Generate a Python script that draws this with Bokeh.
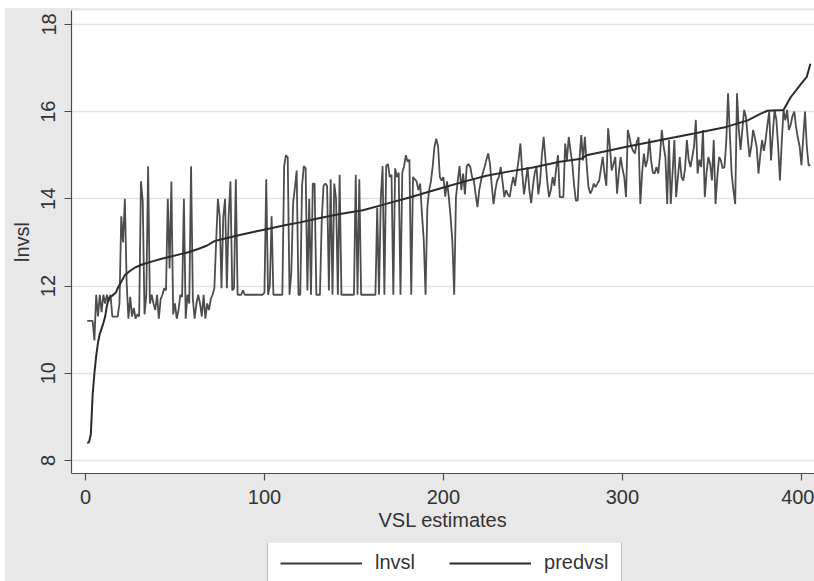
from bokeh.plotting import figure
from bokeh.layouts import column
from bokeh.models import Range1d, FixedTicker, Legend, LegendItem
from bokeh.embed import file_html
from bokeh.resources import INLINE

# Observed log VSL per estimate (observation number, lnvsl)
lnvsl_points = [
    (1, 11.2), (4, 11.2), (5, 10.75), (6, 11.8), (7, 11.3), (8, 11.8), (9, 11.4), (10, 11.8),
    (11, 11.6), (12, 11.8), (13, 11.65), (14, 11.8), (15, 11.3), (18, 11.3), (19, 11.6),
    (20, 13.6), (21, 13.0), (22, 14.0), (23, 12.1), (24, 11.25), (25, 11.75), (26, 11.3),
    (27, 11.5), (28, 11.25), (29, 11.35), (30, 11.3), (31, 14.4), (32, 13.95), (33, 11.35),
    (34, 11.8), (35, 14.75), (36, 11.6), (37, 11.8), (38, 11.6), (39, 11.45), (40, 11.8),
    (41, 11.25), (42, 11.7), (43, 11.8), (44, 11.95), (45, 11.9), (46, 14.0), (47, 12.4),
    (48, 14.4), (49, 11.35), (50, 11.6), (51, 11.25), (52, 11.45), (53, 11.8), (54, 11.75),
    (55, 14.0), (56, 11.25), (57, 11.8), (58, 11.6), (59, 14.75), (60, 11.7), (61, 11.25),
    (62, 11.6), (63, 11.8), (64, 11.6), (65, 11.3), (66, 11.8), (67, 11.25), (68, 11.6),
    (69, 11.45), (70, 11.7), (71, 11.8), (72, 11.95), (73, 13.0), (74, 14.0), (75, 13.6),
    (76, 11.95), (77, 13.6), (78, 14.0), (79, 11.95), (80, 13.6), (81, 14.4), (82, 11.9),
    (83, 11.95), (84, 14.45), (85, 11.8), (87, 11.8), (88, 11.9), (89, 11.8), (99, 11.8),
    (100, 11.85), (101, 14.45), (102, 11.8), (103, 12.0), (104, 13.6), (105, 11.8), (110, 11.8),
    (111, 14.75), (112, 15.0), (113, 14.95), (114, 11.8), (115, 12.3), (116, 13.9), (117, 14.25),
    (118, 14.65), (119, 11.8), (120, 11.8), (121, 14.3), (122, 14.75), (123, 14.7), (124, 11.9),
    (125, 14.0), (126, 11.8), (127, 14.35), (128, 14.35), (129, 11.8), (131, 11.8), (132, 13.5),
    (133, 14.3), (134, 14.35), (135, 14.3), (136, 11.9), (137, 14.45), (138, 11.8), (139, 14.35),
    (140, 14.0), (141, 11.8), (142, 14.55), (143, 11.8), (150, 11.8), (151, 14.55), (152, 11.8),
    (153, 14.45), (154, 11.8), (162, 11.8), (163, 13.8), (164, 11.8), (165, 14.0), (166, 14.75),
    (167, 11.8), (168, 14.75), (169, 14.8), (170, 14.5), (171, 14.55), (172, 11.8), (173, 14.7),
    (174, 14.5), (175, 14.6), (176, 11.8), (177, 14.6), (178, 14.75), (179, 15.0), (180, 14.85),
    (181, 14.9), (182, 11.8), (183, 14.5), (184, 14.45), (185, 14.4), (186, 14.2), (187, 14.35),
    (188, 13.65), (189, 13.05), (190, 11.8), (191, 13.8), (192, 14.2), (193, 14.4), (194, 14.75),
    (195, 15.2), (196, 15.38), (197, 15.2), (198, 14.5), (199, 14.42), (200, 14.5), (201, 14.05),
    (202, 14.4), (203, 14.04), (204, 13.58), (205, 13.0), (206, 11.8), (207, 14.04), (208, 14.42),
    (209, 14.75), (210, 14.2), (211, 14.58), (212, 14.1), (213, 14.75), (214, 14.8), (215, 14.73),
    (216, 14.5), (217, 14.42), (218, 14.1), (219, 13.81), (220, 14.2), (221, 14.42), (222, 14.6),
    (223, 14.73), (224, 14.9), (225, 15.04), (226, 14.8), (227, 14.3), (228, 13.88), (229, 14.2),
    (230, 14.42), (231, 14.5), (232, 14.73), (233, 14.4), (234, 14.04), (235, 14.2), (236, 14.1),
    (237, 14.04), (238, 14.3), (239, 14.5), (240, 14.3), (241, 14.6), (242, 14.9), (243, 15.27),
    (244, 14.6), (245, 14.1), (246, 14.4), (247, 14.73), (248, 14.2), (249, 13.9), (250, 14.3),
    (251, 14.6), (252, 14.73), (253, 14.1), (254, 14.4), (255, 15.0), (256, 15.42), (257, 14.9),
    (258, 14.4), (259, 14.04), (260, 14.2), (261, 14.5), (262, 14.3), (263, 14.7), (264, 15.0),
    (265, 14.04), (267, 14.04), (268, 15.27), (269, 14.88), (270, 15.42), (271, 15.1),
    (272, 14.81), (273, 14.3), (274, 13.96), (275, 13.96), (276, 14.9), (277, 15.46), (278, 14.88),
    (279, 15.42), (280, 14.8), (281, 14.27), (282, 14.12), (283, 14.2), (284, 14.35), (285, 14.27),
    (286, 14.35), (287, 14.42), (288, 14.7), (289, 14.96), (290, 14.58), (291, 14.3), (292, 15.62),
    (293, 15.19), (294, 14.65), (295, 14.8), (296, 14.96), (297, 14.12), (298, 14.6), (299, 14.96),
    (300, 14.7), (301, 14.5), (302, 14.04), (303, 15.58), (304, 15.4), (305, 15.19), (306, 15.1),
    (307, 15.04), (308, 15.3), (309, 15.42), (310, 13.88), (311, 14.6), (312, 15.04), (313, 14.73),
    (314, 14.9), (315, 15.38), (316, 14.88), (317, 14.6), (318, 14.58), (319, 14.73), (320, 14.58),
    (321, 15.0), (322, 15.58), (323, 15.2), (324, 14.96), (325, 13.88), (326, 15.35), (327, 13.88),
    (328, 14.6), (329, 15.35), (330, 14.04), (331, 14.5), (332, 14.96), (333, 14.5), (334, 14.42),
    (335, 14.7), (336, 15.35), (337, 14.9), (338, 14.73), (339, 14.96), (340, 15.2), (341, 15.81),
    (342, 14.58), (343, 14.9), (344, 14.73), (345, 15.58), (346, 14.04), (347, 14.6), (348, 14.96),
    (349, 14.8), (350, 14.42), (351, 15.35), (352, 13.88), (353, 14.5), (354, 14.96), (355, 14.88),
    (356, 14.7), (357, 14.73), (358, 15.3), (359, 16.42), (360, 15.5), (361, 14.58), (362, 14.2),
    (363, 13.88), (364, 16.42), (365, 15.6), (366, 15.12), (367, 15.6), (368, 16.04), (369, 15.88),
    (370, 15.4), (371, 14.96), (372, 15.2), (373, 15.58), (374, 15.4), (375, 15.19), (376, 14.58),
    (377, 15.0), (378, 15.35), (379, 15.1), (380, 15.35), (381, 15.7), (382, 16.0), (383, 14.88),
    (384, 15.5), (385, 16.04), (386, 15.81), (387, 15.2), (388, 14.42), (389, 15.3), (390, 16.04),
    (391, 15.8), (392, 16.04), (393, 15.58), (394, 15.7), (395, 15.9), (396, 16.0), (397, 15.65),
    (398, 15.4), (399, 15.2), (400, 14.77), (401, 15.4), (402, 16.0), (403, 15.2), (404, 14.77),
    (405, 14.77),
]

# Fitted values (observation number, predvsl), sorted ascending
predvsl_points = [
    (1, 8.4), (2, 8.42), (3, 8.6), (4, 9.5), (5, 10.0), (6, 10.4), (7, 10.7), (8, 10.9),
    (10, 11.15), (11, 11.3), (12, 11.55), (13, 11.72), (15, 11.78), (17, 11.85), (18, 11.95),
    (20, 12.1), (22, 12.25), (25, 12.35), (28, 12.43), (32, 12.5), (37, 12.56), (42, 12.62),
    (46, 12.66), (52, 12.72), (57, 12.77), (63, 12.85), (68, 12.93), (72, 13.03), (75, 13.06),
    (85, 13.16), (95, 13.25), (103, 13.32), (112, 13.4), (120, 13.46), (131, 13.56),
    (143, 13.66), (155, 13.74), (165, 13.85), (172, 13.93), (181, 14.03), (190, 14.14),
    (200, 14.26), (212, 14.4), (224, 14.53), (237, 14.63), (250, 14.72), (265, 14.85),
    (277, 14.92), (280, 15.0), (303, 15.2), (320, 15.34), (340, 15.5), (358, 15.65),
    (370, 15.8), (377, 15.95), (381, 16.02), (390, 16.04), (394, 16.33), (400, 16.65),
    (403, 16.8), (405, 17.1),
]

x_ticks = [0, 100, 200, 300, 400]
y_ticks = [8, 10, 12, 14, 16, 18]
series_names = ["lnvsl", "predvsl"]

FONT = "Liberation Sans"
TEXT = "#333333"
AXIS = "#4d4d4d"
PANEL = "#e8e8e9"
OBS_COLOR = "#4d4d4d"
FIT_COLOR = "#2b2b2b"
LEFT = 66      # room for the y axis, shared by both strips
WIDTH = 809

lnvsl_obs = [o for o, _ in lnvsl_points]
lnvsl_val = [v for _, v in lnvsl_points]
pred_obs = [o for o, _ in predvsl_points]
pred_val = [v for _, v in predvsl_points]

# ---- main chart -------------------------------------------------------
p = figure(
    width=WIDTH, height=535,
    output_backend="svg", toolbar_location=None,
    x_range=Range1d(-7.8, 407.3), y_range=Range1d(7.70, 18.32),
    min_border_left=LEFT, min_border_right=0, min_border_top=2, min_border_bottom=70,
    background_fill_color="white", border_fill_color=PANEL,
    outline_line_color=None,
)
p.margin = (0, 0, 0, 0)

p.line(lnvsl_obs, lnvsl_val, line_color=OBS_COLOR, line_width=1.8)
p.line(pred_obs, pred_val, line_color=FIT_COLOR, line_width=2)

for ax in (p.xaxis[0], p.yaxis[0]):
    ax.axis_line_color = AXIS
    ax.axis_line_width = 1.2
    ax.major_tick_line_color = AXIS
    ax.major_tick_line_width = 1.2
    ax.major_tick_out = 7
    ax.major_tick_in = 0
    ax.minor_tick_line_color = None
    ax.major_label_text_font = FONT
    ax.major_label_text_font_size = "20px"
    ax.major_label_text_color = TEXT
    ax.axis_label_text_font = FONT
    ax.axis_label_text_font_size = "20px"
    ax.axis_label_text_font_style = "normal"
    ax.axis_label_text_color = TEXT

p.xaxis.major_label_standoff = 9
p.xaxis.axis_label_standoff = 2
p.yaxis.major_label_standoff = 9
p.yaxis.axis_label_standoff = 6

p.xaxis.ticker = FixedTicker(ticks=x_ticks)
p.yaxis.ticker = FixedTicker(ticks=y_ticks)
p.xaxis.axis_label = "VSL estimates"
p.yaxis.axis_label = "lnvsl"
p.yaxis.major_label_orientation = "vertical"

p.xgrid.visible = False
p.ygrid.grid_line_color = "#e2e2e2"
p.ygrid.grid_line_width = 1.5

# ---- legend strip under the chart (transparent over the panel colour) --
key = figure(
    width=WIDTH, height=38,
    output_backend="svg", toolbar_location=None,
    x_range=Range1d(0, 100), y_range=Range1d(0, 10),
    x_axis_type=None, y_axis_type=None,
    min_border_left=LEFT, min_border_right=0, min_border_top=0, min_border_bottom=0,
    background_fill_alpha=0, border_fill_alpha=0,
    outline_line_color=None,
)
key.margin = (0, 0, 0, 0)
key.xgrid.visible = False
key.ygrid.visible = False
# sample strokes kept outside the visible range; they only feed the legend
k_obs = key.line([-20, -10], [-5, -5], line_color="#363636", line_width=2)
k_fit = key.line([-20, -10], [-5, -5], line_color=FIT_COLOR, line_width=2)

legend = Legend(
    items=[LegendItem(label=series_names[0], renderers=[k_obs]),
           LegendItem(label=series_names[1], renderers=[k_fit])],
    orientation="horizontal",
    location=(196, -6),
    glyph_width=82, glyph_height=20, label_height=20,
    label_standoff=13, spacing=34, padding=12, margin=0,
    label_text_font=FONT, label_text_font_size="20px", label_text_color=TEXT,
    border_line_color="#7a7a7a", border_line_width=1,
    background_fill_color="white", background_fill_alpha=1.0,
)
key.add_layout(legend)

layout = column(p, key, spacing=0)
layout.margin = (8, 0, 0, 5)
layout.styles = {"background-color": PANEL}

open("out.html", "w").write(file_html(layout, INLINE))
